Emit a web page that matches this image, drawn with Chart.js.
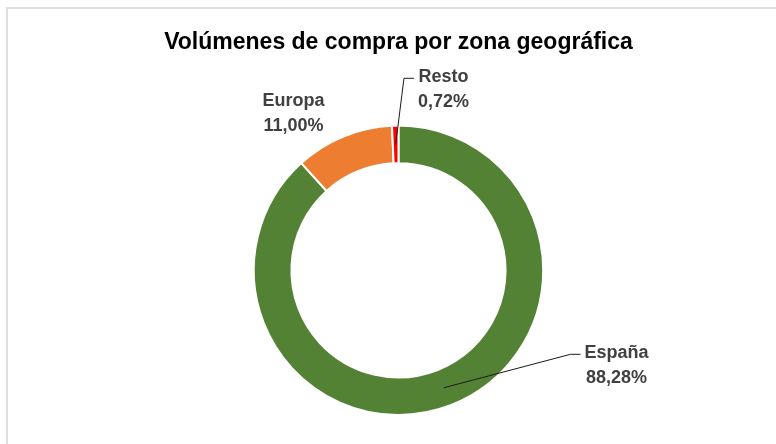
<!DOCTYPE html>
<html>
<head>
<meta charset="utf-8">
<script src="https://cdn.jsdelivr.net/npm/chart.js@4.4.1/dist/chart.umd.min.js"></script>
<style>
  html, body { margin: 0; padding: 0; background: #fff; overflow: hidden; }
  #wrap { position: relative; width: 776px; height: 444px; }
  #frame { position: absolute; left: 6px; top: 7px; width: 900px; height: 600px; border: 2px solid #dedede; box-sizing: border-box; }
  #chart { position: absolute; left: 0; top: 0; }
</style>
</head>
<body>
<div id="wrap">
  <div id="frame"></div>
  <canvas id="chart" width="776" height="444"></canvas>
</div>
<script>
const zonas = ['España', 'Europa', 'Resto'];
const porcentajes = [88.28, 11.00, 0.72];
const colores = ['#548235', '#ED7D31', '#FF0000'];

// where each data label goes, relative to the doughnut centre
const etiquetas = [
  { dx: 218, dy: 92, line: true },
  { dx: -105, dy: -160, line: false },
  { dx: 45, dy: -184, line: true }
];

const fmt = (v) => `${v.toFixed(2).replace('.', ',')}%`;

const sliceLabels = {
  id: 'sliceLabels',
  afterDatasetsDraw(chart) {
    const { ctx } = chart;
    const meta = chart.getDatasetMeta(0);
    ctx.save();
    ctx.font = 'bold 18px "Liberation Sans", Arial, sans-serif';
    ctx.fillStyle = '#404040';
    ctx.textAlign = 'center';
    ctx.textBaseline = 'alphabetic';
    meta.data.forEach((arc, i) => {
      const p = etiquetas[i];
      const cx = arc.x + p.dx;
      const cy = arc.y + p.dy;
      const l1 = zonas[i];
      const l2 = fmt(porcentajes[i]);
      const w = Math.max(ctx.measureText(l1).width, ctx.measureText(l2).width);
      ctx.fillText(l1, cx, cy - 4);
      ctx.fillText(l2, cx, cy + 21);
      if (p.line) {
        const mid = (arc.startAngle + arc.endAngle) / 2;
        const r = (arc.innerRadius + arc.outerRadius) / 2;
        const ax = arc.x + Math.cos(mid) * r;
        const ay = arc.y + Math.sin(mid) * r;
        const left = cx - w / 2;
        ctx.beginPath();
        ctx.strokeStyle = '#1a1a1a';
        ctx.lineWidth = 1;
        ctx.moveTo(ax, ay);
        ctx.lineTo(left - 14, cy - 8);
        ctx.lineTo(left - 4, cy - 8);
        ctx.stroke();
      }
    });
    ctx.restore();
  }
};

new Chart(document.getElementById('chart'), {
  type: 'doughnut',
  data: {
    labels: zonas,
    datasets: [{
      data: porcentajes,
      backgroundColor: colores,
      borderColor: '#ffffff',
      borderWidth: 2
    }]
  },
  options: {
    responsive: false,
    animation: false,
    cutout: '74%',
    layout: { padding: { left: 100, right: 79, bottom: 28, top: 0 } },
    plugins: {
      legend: { display: false },
      tooltip: { enabled: false },
      title: {
        display: true,
        text: 'Volúmenes de compra por zona geográfica',
        color: '#000000',
        font: { family: '"Liberation Sans", Arial, sans-serif', size: 23, weight: 'bold', lineHeight: 1.2 },
        padding: { top: 29, bottom: 68 }
      }
    }
  },
  plugins: [sliceLabels]
});
</script>
</body>
</html>
